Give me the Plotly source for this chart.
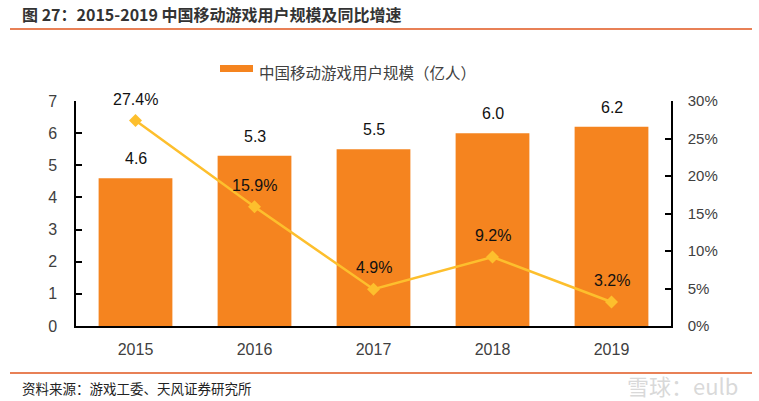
import plotly.graph_objects as go

years = ["2015", "2016", "2017", "2018", "2019"]
users = [4.6, 5.3, 5.5, 6.0, 6.2]          # 亿人
growth = [0.274, 0.159, 0.049, 0.092, 0.032]  # 同比增速

W, H = 759, 401
L, R, T, B = 76, 671, 101, 326  # plot area in pixels

def px(x):
    return (x - L) / (R - L)

def py(y):
    return (B - y) / (B - T)

BAR = "#F5841F"
LINE = "#FDBF2D"
FONT = "Liberation Sans, Arial, Noto Sans CJK SC, sans-serif"
CJK = "Noto Sans CJK SC, Microsoft YaHei, sans-serif"

fig = go.Figure()
fig.add_trace(go.Bar(x=years, y=users, marker=dict(color=BAR, line=dict(width=0)),
                     width=0.62, name="中国移动游戏用户规模（亿人）", showlegend=False))
fig.add_trace(go.Scatter(x=years, y=growth, yaxis="y2", mode="lines+markers",
                         line=dict(color=LINE, width=2.5),
                         marker=dict(symbol="diamond", size=10, color=LINE),
                         showlegend=False))

ann = []
for i, yv in enumerate(users):
    ann.append(dict(x=i, y=yv, xref="x", yref="y", text=f"{yv:.1f}", showarrow=False,
                    yanchor="bottom", yshift=9, font=dict(size=16, color="#111111", family=FONT)))
for i, yv in enumerate(growth):
    ann.append(dict(x=i, y=yv, xref="x", yref="y2", text=f"{yv*100:.1f}%", showarrow=False,
                    yanchor="bottom", yshift=11, font=dict(size=16, color="#111111", family=FONT)))

# title
ann.append(dict(x=px(20), y=py(14), xref="paper", yref="paper", xanchor="left", yanchor="middle",
                text="<b>图 27：2015-2019 中国移动游戏用户规模及同比增速</b>", showarrow=False,
                font=dict(size=16, color="#333333", family=CJK)))
# legend text
ann.append(dict(x=px(257), y=py(72), xref="paper", yref="paper", xanchor="left", yanchor="middle",
                text="中国移动游戏用户规模（亿人）", showarrow=False,
                font=dict(size=15.5, color="#404040", family=CJK)))
# source
ann.append(dict(x=px(20), y=py(388), xref="paper", yref="paper", xanchor="left", yanchor="middle",
                text="资料来源：游戏工委、天风证券研究所", showarrow=False,
                font=dict(size=13.5, color="#222222", family=CJK)))
# watermark
ann.append(dict(x=px(740), y=py(385), xref="paper", yref="paper", xanchor="right", yanchor="middle",
                text="雪球：eulb", showarrow=False,
                font=dict(size=22, color="rgba(200,200,200,0.7)", family=CJK)))

shapes = [
    dict(type="line", xref="paper", yref="paper", x0=px(10), x1=px(752), y0=py(29), y1=py(29),
         line=dict(color="#E0561E", width=1.5)),
    dict(type="line", xref="paper", yref="paper", x0=px(10), x1=px(752), y0=py(373), y1=py(373),
         line=dict(color="#E0561E", width=1.5)),
    dict(type="rect", xref="paper", yref="paper", x0=px(220), x1=px(253), y0=py(65), y1=py(72),
         fillcolor=BAR, line=dict(width=0)),
]

fig.update_layout(
    width=W, height=H,
    margin=dict(l=L, r=W - R, t=T, b=H - B, pad=0, autoexpand=False),
    paper_bgcolor="white", plot_bgcolor="white",
    font=dict(family=FONT, size=16, color="#404040"),
    annotations=ann, shapes=shapes,
    xaxis=dict(type="category", range=[-0.5, 4.5], showline=True, linecolor="#000000",
               linewidth=1.5, ticks="", showgrid=False, tickfont=dict(size=16, color="#404040"),
               ticklabelstandoff=8, zeroline=False),
    yaxis=dict(range=[0, 7], dtick=1, showline=True, linecolor="#000000", linewidth=1.5,
               ticks="inside", ticklen=6, tickcolor="#000000", tickwidth=1.5, showgrid=False,
               zeroline=False, tickfont=dict(size=16, color="#404040"), ticklabelstandoff=14),
    yaxis2=dict(range=[0, 0.30], dtick=0.05, tickformat=".0%", overlaying="y", side="right",
                showline=True, linecolor="#000000", linewidth=1.5, ticks="inside", ticklen=6,
                tickcolor="#000000", tickwidth=1.5, showgrid=False, zeroline=False,
                tickfont=dict(size=15, color="#404040"), ticklabelstandoff=12),
)

fig.write_html("out.html", config={"displayModeBar": False},
               post_script="document.body.style.margin='0';document.body.style.padding='0';")
